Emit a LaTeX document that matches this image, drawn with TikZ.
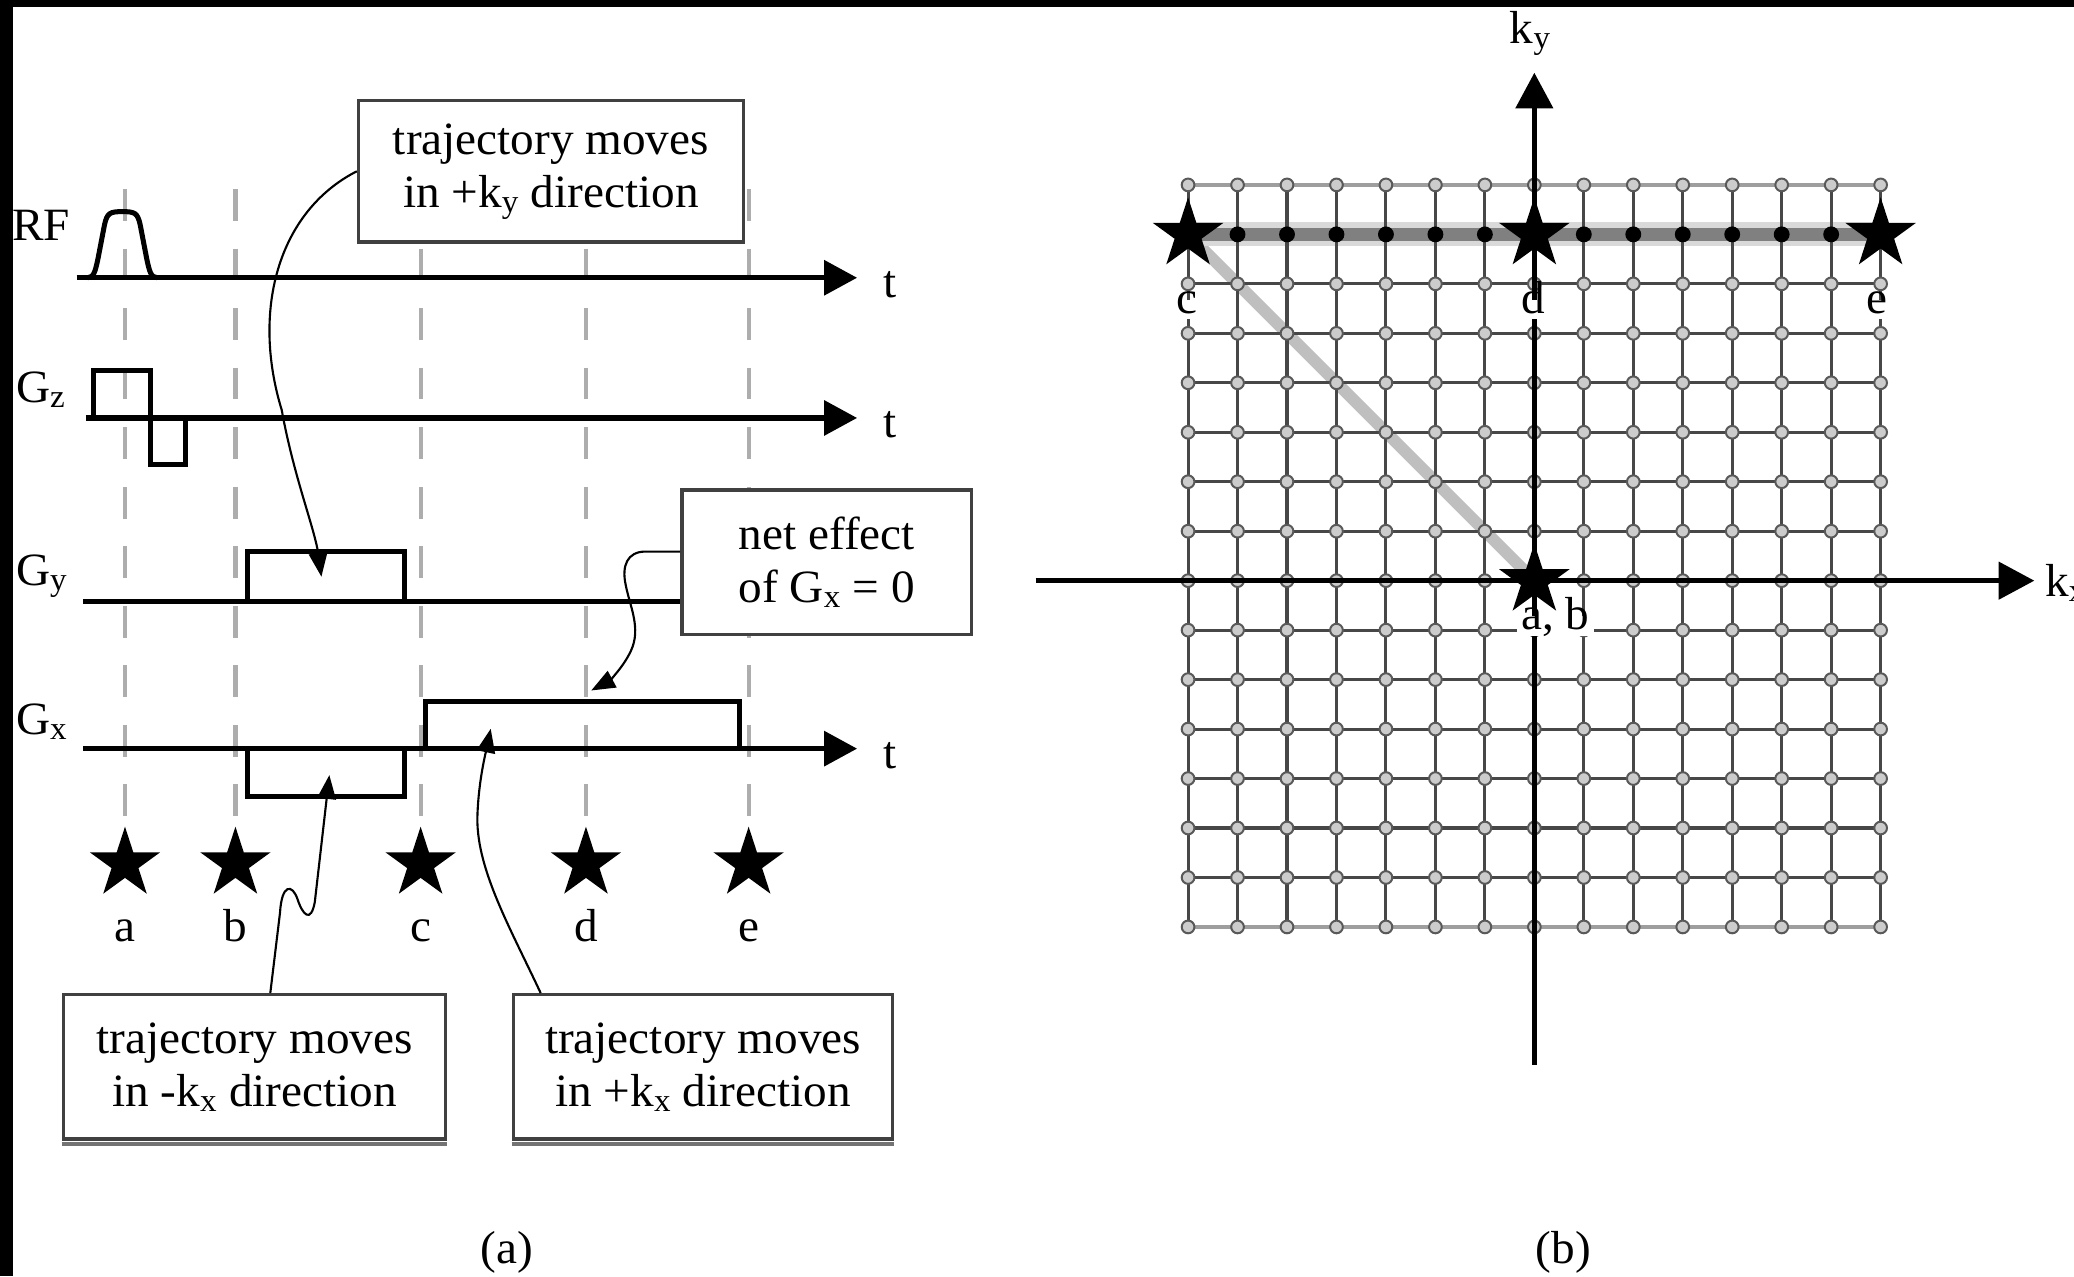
\documentclass[tikz,border=0pt]{standalone}
\usepackage{fontspec}
\setmainfont{Liberation Serif}[FakeStretch=1.02]
\usetikzlibrary{arrows.meta,shapes.geometric,calc}
\begin{document}
\begin{tikzpicture}[x=1pt,y=-1pt,
  txt/.style={font=\fontsize{35}{40}\selectfont, inner sep=0pt},
  taxis/.style={line width=4pt, -{Triangle[length=25pt,width=26pt]}},
  kaxis/.style={line width=3.5pt, -{Triangle[length=27pt,width=28pt]}},
  wave/.style={line width=3.8pt, line join=miter},
  dashv/.style={line width=3.2pt, draw=black!32, dash pattern=on 24pt off 21pt},
  conn/.style={line width=1.6pt, -{Triangle[length=18pt,width=14pt]}},
  callout/.style={txt, draw=black!75, line width=2.5pt, fill=white, align=center},
  kstar/.style={star, star points=5, star point ratio=2.618, fill=black, draw=none, minimum size=56pt, inner sep=0pt},
  gridln/.style={draw=black!72, line width=2.3pt},
  edgeln/.style={draw=black!38, line width=3.5pt},
  knode/.style={draw=black!65, fill=black!20, line width=1.5pt},
  klab/.style={txt, fill=white, inner sep=3pt, text height=0.7em, text depth=0.15em, anchor=base}
]
\useasboundingbox (0,0) rectangle (1568,965);
\fill[white] (0,0) rectangle (1568,965);
\fill[black] (0,0) rectangle (1568,5.5);
\fill[black] (0,0) rectangle (10,965);

% ---------- panel (a) ----------
\foreach \x in {94.5,178,318,443,566} \draw[dashv] (\x,143) -- (\x,620);

\draw[taxis] (58,210) -- (648,210);
\draw[taxis] (65,316) -- (648,316);
\draw[taxis] (63,566) -- (648,566);

\node[txt, anchor=base west] (t1) at (668,225) {t};
\node[txt, anchor=base west] (t2) at (668,331) {t};
\node[txt, anchor=base west] (t3) at (668,581) {t};

\node[txt, anchor=base west] (rf) at (9,182) {RF};
\node[txt, anchor=base west] (gz) at (12,304) {G\textsubscript{z}};
\node[txt, anchor=base west] (gy) at (12,443) {G\textsubscript{y}};
\node[txt, anchor=base west] (gx) at (12,555) {G\textsubscript{x}};

% RF pulse
\draw[wave] (66,210) .. controls (71,210) and (72,205) .. (74,196) -- (79,170)
  .. controls (81,161) and (83,160) .. (92.5,160) .. controls (102,160) and (104,161) .. (106,170)
  -- (111,196) .. controls (113,205) and (114,210) .. (119,210);
% Gz
\draw[wave] (70.5,316) -- (70.5,280) -- (113.5,280) -- (113.5,351.5) -- (140,351.5) -- (140,316);
% Gx
\draw[wave] (187,566) -- (187,602) -- (306,602) -- (306,566);
\draw[wave] (322,566) -- (322,530) -- (559,530) -- (559,566);
% Gy
\draw[wave] (187,455) -- (187,417) -- (306,417) -- (306,455);

% callout boxes
\node[callout, minimum width=291pt, minimum height=107pt] (boxky) at (416.5,129.5)
  {trajectory moves\\in +k\textsubscript{y} direction};
\node[callout, minimum width=219pt, minimum height=109pt] (netbox) at (625,425)
  {net effect\\of G\textsubscript{x} = 0};
\node[callout, minimum width=289pt, minimum height=109pt] (boxL) at (192.5,806.5)
  {trajectory moves\\in -k\textsubscript{x} direction};
\node[callout, minimum width=287pt, minimum height=109pt] (boxR) at (531.5,806.5)
  {trajectory moves\\in +k\textsubscript{x} direction};
\draw[black!55, line width=3pt] ($(boxL.south west)+(0,2.5)$) -- ($(boxL.south east)+(0,2.5)$);
\draw[black!55, line width=3pt] ($(boxR.south west)+(0,2.5)$) -- ($(boxR.south east)+(0,2.5)$);

% Gy axis runs into the net-effect box
\draw[line width=4pt] (63,455) -- ($(netbox.west)+(0,30)$);

% connectors
\coordinate (tipgy) at (243,436);
\coordinate (tipgxn) at (249,586);
\coordinate (tipgxp) at (371,551);
\coordinate (tipnet) at (447,522);
\draw[conn] (boxky.west) .. controls (210,160) and (190,235) .. (213,310)
  .. controls (222,360) and (238,400) .. (tipgy);
\draw[conn] ($(boxL.north west)+(157.6,0)$) -- (211.7,690)
  .. controls (213,668) and (221,668) .. (225,680)
  .. controls (229,692) and (235,698) .. (238,682) -- (tipgxn);
\draw[conn] ($(boxR.north west)+(22,0)$) .. controls (385,700) and (359,655) .. (361,615)
  .. controls (362,590) and (367,570) .. (tipgxp);
\draw[conn] ($(netbox.west)+(0,-8)$) -- (488,417)
  .. controls (474,417) and (470,428) .. (473,442)
  .. controls (476,458) and (485,475) .. (477,492)
  .. controls (471,505) and (460,515) .. (tipnet);

% time-point stars
\foreach \x/\n in {94.5/a,178/b,318/c,443/d,566/e}{
  \node[kstar] (s\n) at (\x,653) {};
  \node[txt, anchor=base] (l\n) at (\x,712) {\n};
}
\node[txt, anchor=base] (capa) at (383,955) {(a)};

% ---------- panel (b) ----------
\draw[line width=9pt, black!25] (898.2,177.2) -- (1160,439);
\draw[line width=18pt, black!15] (898.2,177.2) -- (1421.8,177.2);
\draw[line width=10pt, black!50] (898.2,177.2) -- (1421.8,177.2);
\foreach \i in {-7,...,7} \draw[gridln] ({1160+37.4*\i},139.8) -- ({1160+37.4*\i},700.8);
\foreach \j in {-6,...,6} \draw[gridln] (898.2,{439-37.4*\j}) -- (1421.8,{439-37.4*\j});
\draw[edgeln] (898.2,139.8) -- (1421.8,139.8);
\draw[edgeln] (898.2,700.8) -- (1421.8,700.8);
\foreach \i in {-7,...,7} \foreach \j in {-7,-6,-5,-4,-3,-2,-1,0,1,2,3,4,5,6,8}
  \draw[knode] ({1160+37.4*\i},{439-37.4*\j}) circle[radius=4.8pt];
\foreach \i in {-6,-5,-4,-3,-2,-1,1,2,3,4,5,6}
  \fill ({1160+37.4*\i},177.2) circle[radius=6pt];

\draw[kaxis] (783,439) -- (1538,439);
\draw[kaxis] (1160,805) -- (1160,55);
\node[txt, anchor=base west] (kx) at (1546,451) {k\textsubscript{x}};
\node[txt, anchor=base] (ky) at (1157,33) {k\textsubscript{y}};

\node[klab] (kc) at (897,237) {c};
\node[klab] (kd) at (1159,237) {d};
\node[klab] (ke) at (1419,237) {e};
\node[klab] (kab) at (1176,476) {a, b};

\node[kstar] (stc) at (898.2,177.2) {};
\node[kstar] (std) at (1160,177.2) {};
\node[kstar] (ste) at (1421.8,177.2) {};
\node[kstar] (stab) at (1160,439) {};

\node[txt, anchor=base] (capb) at (1182,955) {(b)};
\end{tikzpicture}
\end{document}
